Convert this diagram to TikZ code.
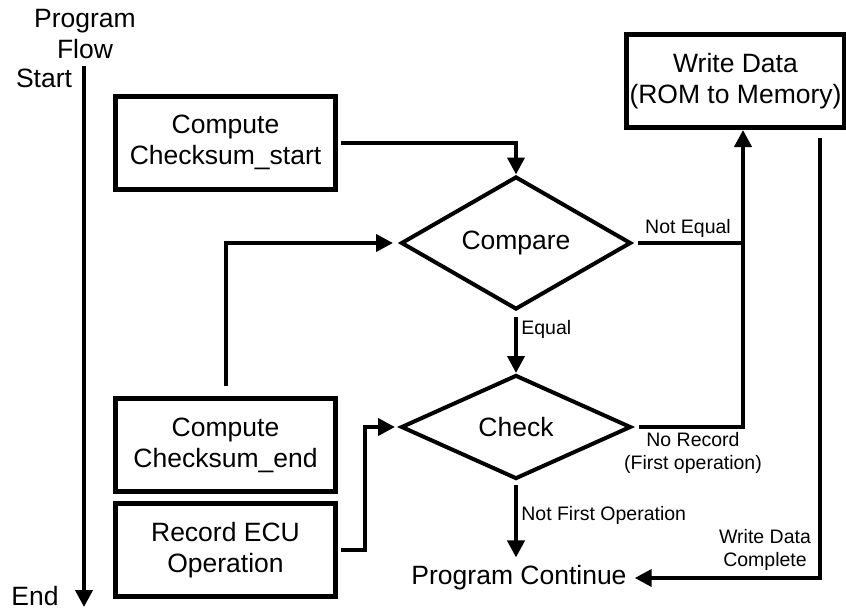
\documentclass[tikz,border=0pt]{standalone}
\usepackage{fontspec}
\setmainfont{Liberation Sans}
\usetikzlibrary{arrows.meta}
\usetikzlibrary{shapes.geometric}
\tikzset{>={Triangle[length=17pt,width=17pt]}}
\tikzset{stepbox/.style = {shape=rectangle,draw,line width=5pt,minimum width=220pt,minimum height=93pt,align=center,font=\fontsize{26.5}{31}\selectfont}}
\tikzset{decision/.style = {shape=diamond,draw,line width=4pt,inner sep=0pt,minimum width=230pt,minimum height=108pt,font=\fontsize{26.5}{31}\selectfont}}
\tikzset{flow/.style = {line width=4pt,->}}
\tikzset{bigtext/.style = {align=center,font=\fontsize{26.5}{31}\selectfont}}
\tikzset{smalltext/.style = {align=center,font=\fontsize{19.5}{23}\selectfont}}

\begin{document}
\begin{tikzpicture}[x=1pt,y=-1pt]
                \useasboundingbox (0,0) rectangle (846,610);

                % program flow axis
                \node[bigtext] (flowlbl) at (85,34) {Program\\Flow};
                \node[bigtext] (startlbl) at (44,78) {Start};
                \node[bigtext] (endlbl) at (35,596) {End};
                \coordinate (flowtop) at (84,66);
                \coordinate (flowend) at (84,607);
                \draw[flow] (flowtop) -- (flowend);

                \node[stepbox] (sumstart) at (225.5,142.5) {Compute\\Checksum\_start};
                \node[stepbox] (sumend) at (225.5,445) {Compute\\Checksum\_end};
                \node[stepbox] (ecu) at (225.5,550) {Record ECU\\Operation};
                \node[stepbox,minimum width=210pt] (write) at (735.5,81) {Write Data\\(ROM to Memory)};
                \node[decision] (compare) at (516,243) {Compare};
                \node[decision,minimum height=104pt] (check) at (516,427) {Check};
                \node[bigtext,inner sep=8pt] (cont) at (519,578) {Program Continue};
                \coordinate (merge) at (743,243);

                \draw[flow,shorten <=3pt] (sumstart.east) -| (compare.north);
                \draw[flow,shorten <=10pt,shorten >=6pt] (sumend.north) |- (compare.west);
                \draw[flow,shorten <=3pt,shorten >=4pt] (ecu.east) -- ++(27,0) |- (check.west);
                \draw[flow,shorten <=6pt] (compare.south) -- (check.north)
                    node[smalltext,pos=0.3,right] {Equal};
                \draw[flow,shorten <=4pt] (check.south) -- (check.south |- cont.north)
                    node[smalltext,pos=0.45,right] {Not First Operation};
                \draw[line width=4pt,shorten <=5pt] (compare.east) -- (merge)
                    node[smalltext,midway,above] {Not Equal};
                \draw[line width=4pt,shorten <=6pt] (check.east) -| (merge);
                \draw[flow] (merge) -- (merge |- write.south);
                \node[smalltext] (norec) at (693,453) {No Record\\(First operation)};
                \draw[flow,shorten <=8pt] ([xshift=84.5pt]write.south) |- (cont.east);
                \node[smalltext] (wdone) at (765,550) {Write Data\\Complete};
            \end{tikzpicture}
\end{document}
